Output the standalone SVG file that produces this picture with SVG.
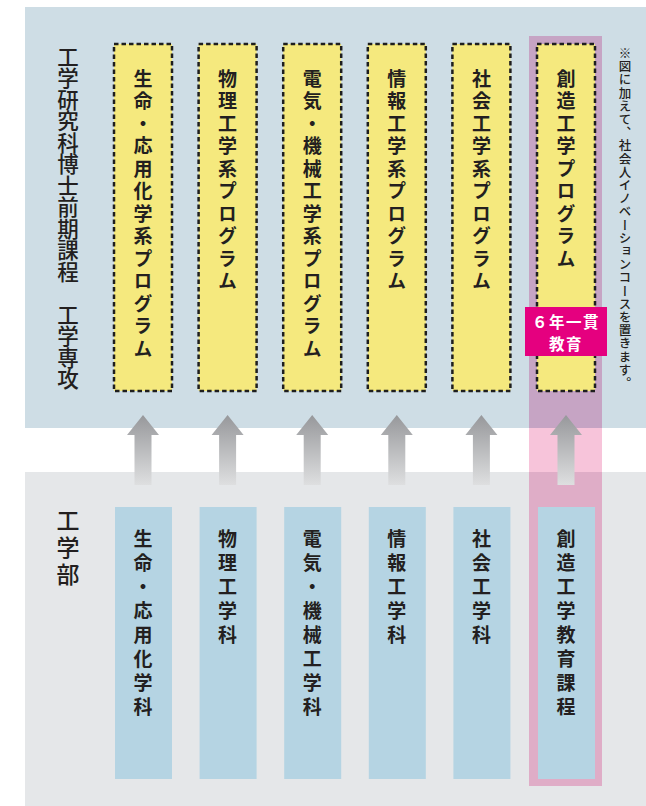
<svg xmlns="http://www.w3.org/2000/svg" width="646" height="806" viewBox="0 0 646 806">
<defs>
<linearGradient id="ag" x1="0" y1="0" x2="0" y2="1">
<stop offset="0" stop-color="#97989b"/>
<stop offset="1" stop-color="#dedfe0"/>
</linearGradient>
<style>
.jp{font-family:"Noto Sans CJK JP","Noto Sans CJK SC",sans-serif;fill:#231f20}
.v{writing-mode:vertical-rl}
.prog{fill:#f5e97e;stroke:#1e1e1e;stroke-width:2.5;stroke-dasharray:4.5 3}
.dept{fill:#b5d4e3}
.pt{font-size:19px;font-weight:700;letter-spacing:3.5px}
.dt{font-size:19px;font-weight:700;letter-spacing:5px}
.arrow{fill:url(#ag)}
.lab{font-size:15.5px;font-weight:700;fill:#fff;letter-spacing:1.5px}
</style>
</defs>
<rect x="25" y="7" width="621" height="421" fill="#cedde5"/>
<rect x="25" y="472" width="621" height="334" fill="#e5e7e9"/>
<g id="sozo-column">
<rect x="529" y="36" width="73" height="392" fill="#c6a4c4"/>
<rect x="529" y="428" width="73" height="44" fill="#f7c4da"/>
<rect x="529" y="472" width="73" height="314" fill="#dfadc7"/>
</g>
<text class="jp v" x="68" y="46" style="font-size:21.5px;font-weight:500">工学研究科博士前期課程　工学専攻</text>
<text class="jp v" x="68" y="509" style="font-size:23px;font-weight:500;letter-spacing:3.7px">工学部</text>
<g id="prog1"><rect class="prog" x="114" y="44" width="58" height="347"/><text class="jp v pt" x="143" y="69">生命・応用化学系プログラム</text></g>
<g id="prog2"><rect class="prog" x="198.6" y="44" width="58" height="347"/><text class="jp v pt" x="227.6" y="69">物理工学系プログラム</text></g>
<g id="prog3"><rect class="prog" x="283.2" y="44" width="58" height="347"/><text class="jp v pt" x="312.2" y="69">電気・機械工学系プログラム</text></g>
<g id="prog4"><rect class="prog" x="367.8" y="44" width="58" height="347"/><text class="jp v pt" x="396.8" y="69">情報工学系プログラム</text></g>
<g id="prog5"><rect class="prog" x="452.4" y="44" width="58" height="347"/><text class="jp v pt" x="481.4" y="69">社会工学系プログラム</text></g>
<g id="prog6"><rect class="prog" x="537" y="44" width="58" height="347"/><text class="jp v pt" x="566" y="69">創造工学プログラム</text></g>
<g id="label6">
<rect x="525" y="307" width="82" height="49" fill="#e5007f"/>
<text class="jp lab" x="566" y="327.5" text-anchor="middle">６年一貫</text>
<text class="jp lab" x="566" y="350" text-anchor="middle">教育</text>
</g>
<text class="jp v" x="625" y="47" style="font-size:12.5px;font-weight:500;letter-spacing:0.7px">※図に加えて、社会人イノベーションコースを置きます。</text>
<g id="connectors">
<path class="arrow" d="M143,415 L159,435 L151.5,435 L151.5,485 L134.5,485 L134.5,435 L127,435 Z"/>
<path class="arrow" d="M227.6,415 L243.6,435 L236.1,435 L236.1,485 L219.1,485 L219.1,435 L211.6,435 Z"/>
<path class="arrow" d="M312.2,415 L328.2,435 L320.7,435 L320.7,485 L303.7,485 L303.7,435 L296.2,435 Z"/>
<path class="arrow" d="M396.8,415 L412.8,435 L405.3,435 L405.3,485 L388.3,485 L388.3,435 L380.8,435 Z"/>
<path class="arrow" d="M481.4,415 L497.4,435 L489.9,435 L489.9,485 L472.9,485 L472.9,435 L465.4,435 Z"/>
<path class="arrow" d="M566,415 L582,435 L574.5,435 L574.5,485 L557.5,485 L557.5,435 L550,435 Z"/>
</g>
<g id="dept1"><rect class="dept" x="115" y="507" width="57" height="272"/><text class="jp v dt" x="143" y="529">生命・応用化学科</text></g>
<g id="dept2"><rect class="dept" x="199.6" y="507" width="57" height="272"/><text class="jp v dt" x="227.6" y="529">物理工学科</text></g>
<g id="dept3"><rect class="dept" x="284.2" y="507" width="57" height="272"/><text class="jp v dt" x="312.2" y="529">電気・機械工学科</text></g>
<g id="dept4"><rect class="dept" x="368.8" y="507" width="57" height="272"/><text class="jp v dt" x="396.8" y="529">情報工学科</text></g>
<g id="dept5"><rect class="dept" x="453.4" y="507" width="57" height="272"/><text class="jp v dt" x="481.4" y="529">社会工学科</text></g>
<g id="dept6"><rect class="dept" x="538" y="507" width="57" height="272"/><text class="jp v dt" x="566" y="529">創造工学教育課程</text></g>
</svg>
